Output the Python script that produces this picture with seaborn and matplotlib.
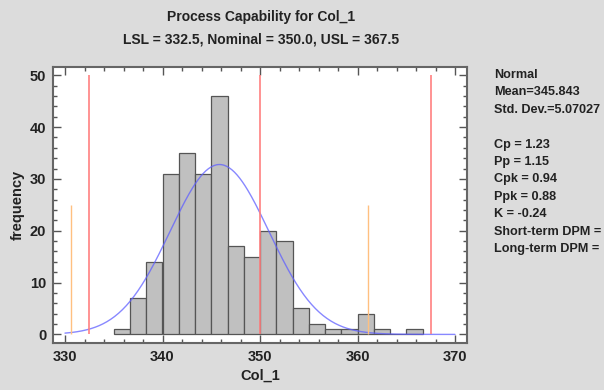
import numpy as np
import pandas as pd
import matplotlib
matplotlib.use("Agg")
import matplotlib.pyplot as plt
import seaborn as sns
from matplotlib.ticker import MultipleLocator

# ---- data ----
bin_start = 335.0
bin_width = 5.0 / 3.0
counts = [1, 7, 14, 31, 35, 31, 46, 17, 15, 20, 18, 5, 2, 1, 1, 4, 1, 0, 1]
mean = 345.843
std_dev = 5.07027
lsl, nominal, usl = 332.5, 350.0, 367.5
x_ticks = [330, 340, 350, 360, 370]
y_ticks = [0, 10, 20, 30, 40, 50]
stats_lines = ["Normal", "Mean=345.843", "Std. Dev.=5.07027", "",
               "Cp = 1.23", "Pp = 1.15", "Cpk = 0.94", "Ppk = 0.88",
               "K = -0.24", "Short-term DPM =", "Long-term DPM ="]

sns.set_style("ticks")
fam = ['Liberation Sans', 'DejaVu Sans']
plt.rcParams['font.family'] = fam

n_bins = len(counts)
edges = bin_start + bin_width * np.arange(n_bins + 1)
centers = (edges[:-1] + edges[1:]) / 2
df = pd.DataFrame({"value": centers, "count": counts})

fig = plt.figure(figsize=(6.04, 3.90), dpi=100)
bg = "#dcdcdc"
fig.patch.set_facecolor(bg)
ax = fig.add_axes([53.3 / 604, 1 - 342.7 / 390, (466.7 - 53.3) / 604, (342.7 - 66.5) / 390])
ax.set_facecolor("white")

sns.histplot(data=df, x="value", weights="count", binwidth=bin_width,
             binrange=(float(edges[0]), float(edges[-1])), ax=ax,
             color="#c0c0c0", edgecolor="#555555", linewidth=0.9, alpha=1.0)

# fitted normal curve
total = sum(counts)
xs = np.linspace(330, 370, 300)
pdf = total * bin_width * np.exp(-0.5 * ((xs - mean) / std_dev) ** 2) / (std_dev * np.sqrt(2 * np.pi))
sns.lineplot(x=xs, y=pdf, ax=ax, color="#6060ff", alpha=0.75, linewidth=1.0)

# spec limits
ax.vlines([lsl, nominal, usl], 0, 50, colors="#ff8080", linewidth=1.2, zorder=3)
# +/- 3 sigma
ax.vlines([mean - 3 * std_dev, mean + 3 * std_dev], 0, 25, colors="#ffc080", linewidth=1.0, zorder=3)

ax.set_xlim(328.8, 371.2)
ax.set_ylim(-1.6, 51.7)
ax.set_xticks(x_ticks)
ax.set_yticks(y_ticks)
ax.xaxis.set_minor_locator(MultipleLocator(2))
ax.yaxis.set_minor_locator(MultipleLocator(2))
ax.tick_params(which="both", direction="in", top=True, right=True, color="#555555")
ax.tick_params(which="major", length=6, width=1)
ax.tick_params(which="minor", length=3, width=1)
ax.tick_params(axis="both", which="major", labelsize=10.5, pad=5)
for lab in ax.get_xticklabels() + ax.get_yticklabels():
    lab.set_fontweight("bold")
    lab.set_color("#222222")
for s in ax.spines.values():
    s.set_color("#666666")
    s.set_linewidth(1.5)

ax.set_xlabel("Col_1", fontsize=10.5, fontweight="bold", color="#222222", labelpad=4)
ax.set_ylabel("frequency", fontsize=10.5, fontweight="bold", color="#222222", labelpad=4)

fig.text(0.432, 1 - 17 / 390, "Process Capability for Col_1", ha="center", va="center",
         fontsize=10, fontweight="bold", color="#222222")
fig.text(0.432, 1 - 40 / 390, "LSL = 332.5, Nominal = 350.0, USL = 367.5", ha="center", va="center",
         fontsize=10, fontweight="bold", color="#222222")

y0 = 75
for i, line in enumerate(stats_lines):
    if line:
        fig.text(494 / 604, 1 - (y0 + i * 17.4) / 390, line, ha="left", va="center",
                 fontsize=9.1, fontweight="bold", color="#222222")

fig.savefig("out.png", dpi=100, facecolor=bg)
